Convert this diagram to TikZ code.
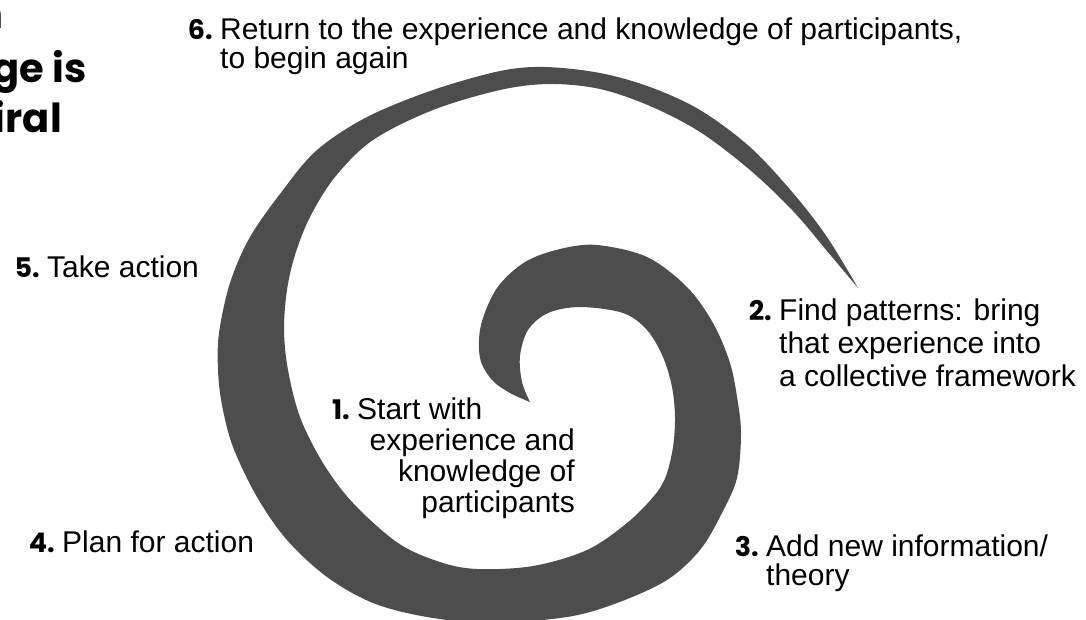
\documentclass[tikz,border=0pt]{standalone}
\usepackage{fontspec}
\setmainfont{Liberation Sans}
\newfontfamily\numfont{Poppins}
\definecolor{spiralgray}{RGB}{77,77,77}
\tikzset{
  lbl/.style={font=\fontsize{30}{33}\selectfont, inner sep=0pt, text=black, anchor=base west},
  lblr/.style={font=\fontsize{30}{33}\selectfont, inner sep=0pt, text=black, anchor=base east},
  num/.style={font=\numfont\bfseries\fontsize{27}{30}\selectfont, inner sep=0pt, text=black, anchor=base east},
  ttl/.style={font=\numfont\bfseries\fontsize{40}{48}\selectfont, inner sep=0pt, text=black, anchor=base east},
  spiralfill/.style={fill=spiralgray, draw=none}
}
\begin{document}
\begin{tikzpicture}[x=1pt, y=-1pt]
\useasboundingbox (0,0) rectangle (1086,619);

% spiral band
\fill[spiralfill]
  plot[smooth, tension=0.55] coordinates {
    (858,288) (827,237) (793,193) (750,147) (700,110) (650,87) (600,73) (545,67)
    (500,71) (433,90) (367,117) (317,150) (283,190) (250,237) (230,283) (219,333)
    (218,370) (222,405) (233,447) (257,497) (287,540) (327,577) (373,603) (427,617)
    (490,623) (567,617) (617,603) (667,580) (700,550) (722,513) (737,478) (741,435)
    (738,403) (730,363) (713,323) (687,287) (647,257) (597,245) (560,249) (525,262)
    (497,288) (481,325) (480,358) (492,380) (510,393) (530,402)}
  -- plot[smooth, tension=0.55] coordinates {
    (530,402) (522,382) (520,356) (528,330) (548,313) (580,307) (623,313) (647,330)
    (663,357) (672,387) (675,417) (673,447) (666,476) (654,496) (627,523) (587,550)
    (533,566) (477,569) (440,562) (398,543) (353,503) (323,463) (300,417) (288,370)
    (284,330) (287,290) (295,255) (310,217) (335,177) (373,140) (433,110) (500,90)
    (550,84) (600,89) (650,106) (700,132) (750,170) (793,211) (827,251) (858,288)}
  -- cycle;

% title fragments (cut by the page edge)
\node[ttl] (t1) at (4,28) {n};
\node[ttl] (t2) at (87,82) {ge is};
\node[ttl] (t3) at (62,132) {iral};

% label 6
\node[lbl] (l6a) at (220,39) {Return to the experience and knowledge of participants,};
\node[lbl] (l6b) at (220,68) {to begin again};
\node[num] (n6) at ([xshift=-7pt]l6a.base west) {6.};

% label 5
\node[lbl] (l5) at (47,277) {Take action};
\node[num] (n5) at ([xshift=-7pt]l5.base west) {5.};

% label 4
\node[lbl] (l4) at (62,552) {Plan for action};
\node[num] (n4) at ([xshift=-7pt]l4.base west) {4.};

% label 1
\node[lbl] (l1a) at (357,419) {Start with};
\node[num] (n1) at ([xshift=-7pt]l1a.base west) {1.};
\node[lblr] (l1b) at (575,450) {experience and};
\node[lblr] (l1c) at (575,481) {knowledge of};
\node[lblr] (l1d) at (575,512) {participants};

% label 2
\node[lbl] (l2a) at (779,320) {Find patterns: bring};
\node[lbl] (l2b) at (779,353) {that experience into};
\node[lbl] (l2c) at (779,386) {a collective framework};
\node[num] (n2) at ([xshift=-7pt]l2a.base west) {2.};

% label 3
\node[lbl] (l3a) at (766,556) {Add new information/};
\node[lbl] (l3b) at (766,585) {theory};
\node[num] (n3) at ([xshift=-7pt]l3a.base west) {3.};
\end{tikzpicture}
\end{document}
